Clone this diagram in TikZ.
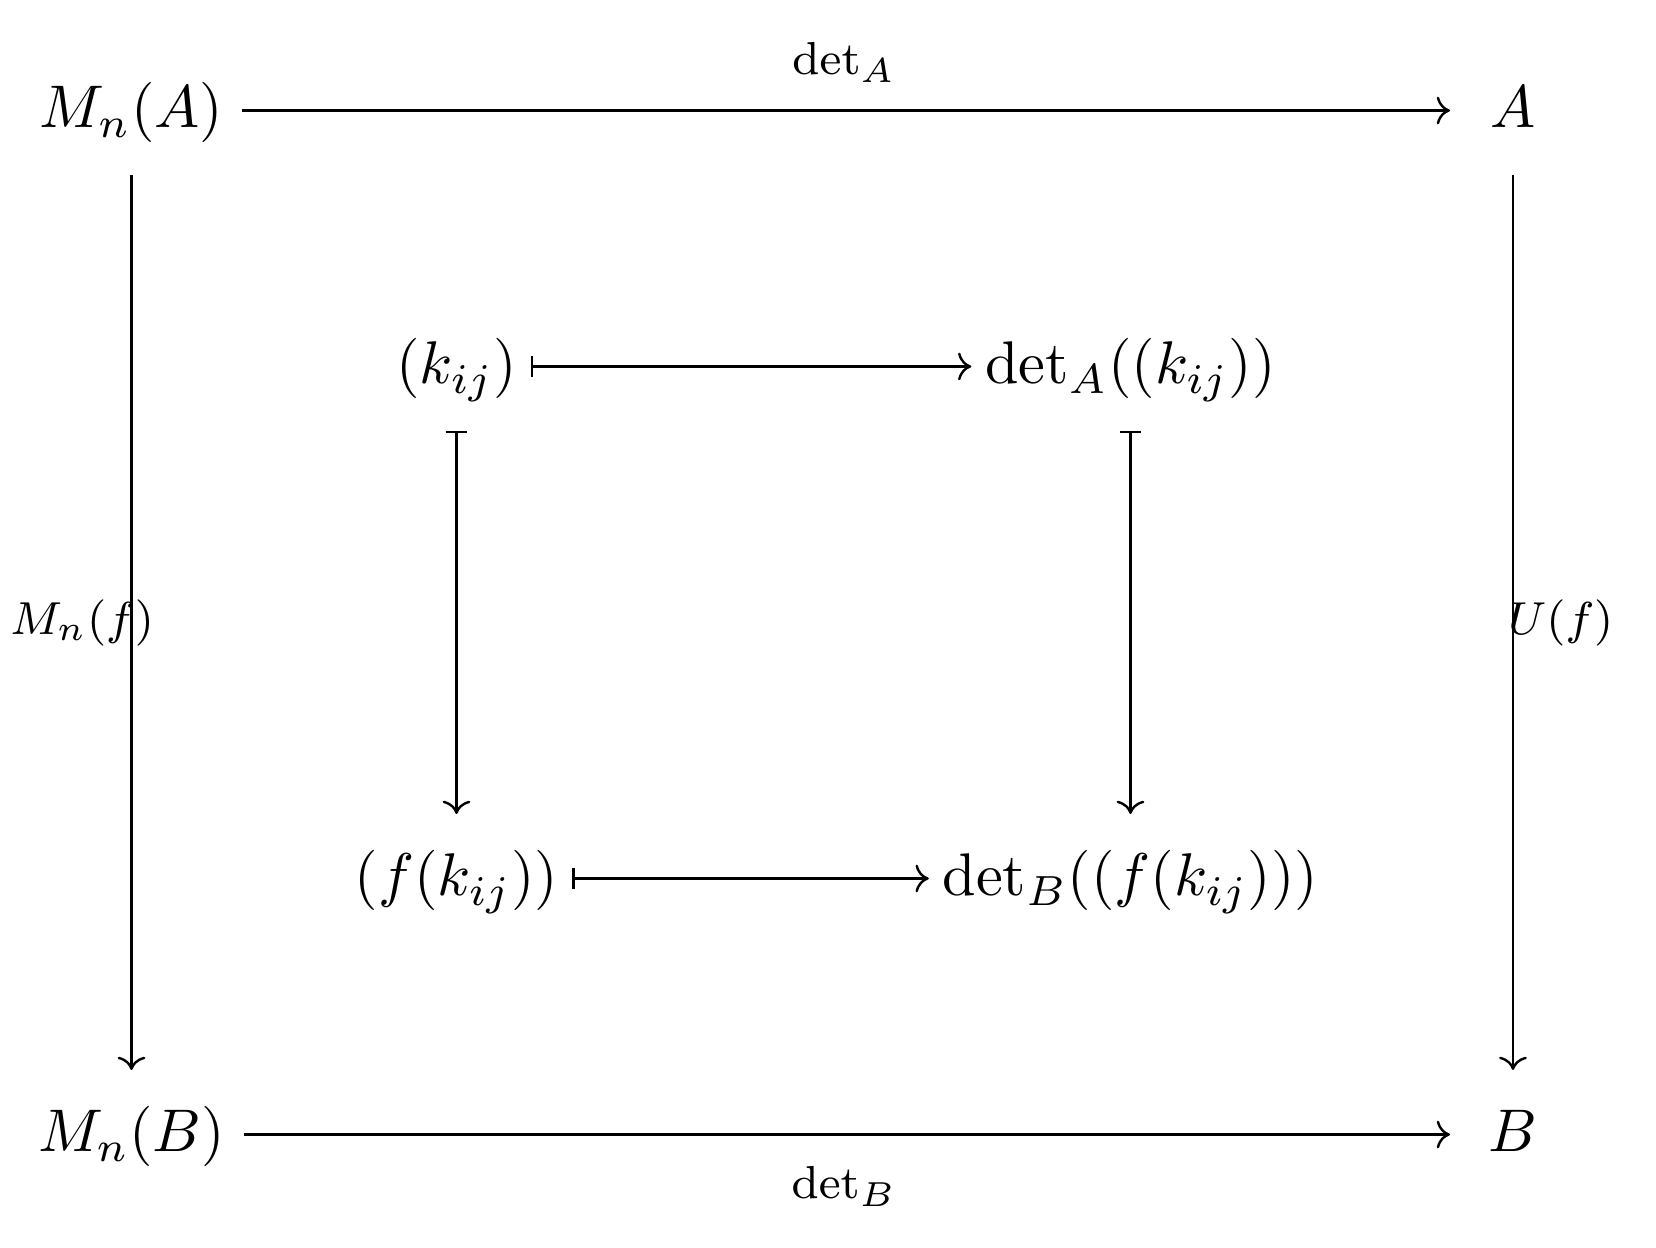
\documentclass[tikz,border=0pt]{standalone}
\usepackage{graphicx}
\usetikzlibrary{arrows.meta}
\newdimen\px
\px=0.166pt
\begin{document}
\begin{tikzpicture}[x=\px,y=-\px,
  cell/.style={inner xsep=19\px, inner ysep=20\px, text height=62\px, text depth=27\px,
    outer sep=0pt, anchor=base, font=\normalsize},
  icell/.style={cell, inner xsep=14\px},
  lab/.style={inner sep=0pt, font=\footnotesize},
  arr/.style={line width=0.4pt, -{Computer Modern Rightarrow[length=2.2pt,width=4.6pt]}},
  mapsto/.style={line width=0.4pt, {Bar[width=3.6pt]}-{Computer Modern Rightarrow[length=2.2pt,width=4.6pt]}}]
\useasboundingbox (0,0) rectangle (1656,1248);
% outer nodes
\node[cell] (MA) at (131.5,128) {$M_n(A)$};
\node[cell, minimum width=126\px] (A) at (1513,128) {$A$};
\node[cell] (MB) at (131.5,1152) {$M_n(B)$};
\node[cell, minimum width=126\px] (B) at (1513,1152) {$B$};
% inner nodes
\node[icell] (K) at (456.5,384) {$(k_{ij})$};
\node[icell] (DA) at (1130.5,384) {$\det_A((k_{ij}))$};
\node[icell] (FK) at (456.5,896) {$(f(k_{ij}))$};
\node[icell] (DB) at (1130.5,896) {$\det_B((f(k_{ij})))$};
% outer arrows
\draw[arr] (MA) -- (A);
\draw[arr] (MB) -- (B);
\draw[arr] (MA) -- (MB);
\draw[arr] (A) -- (B);
% inner arrows
\draw[mapsto] (K) -- (DA);
\draw[mapsto] (FK) -- (DB);
\draw[mapsto] (K) -- (FK);
\draw[mapsto] (DA) -- (DB);
% labels
\node[lab, anchor=base] (lA) at (844,75) {\scalebox{0.96}{$\det_A$}};
\node[lab, anchor=base] (lB) at (844,1199) {\scalebox{0.96}{$\det_B$}};
\node[lab, anchor=base west] (lMf) at (9,635) {\scalebox{0.96}{$M_n(f)$}};
\node[lab, anchor=base west] (lUf) at (1507,635) {\scalebox{0.96}{$U(f)$}};
\end{tikzpicture}
\end{document}
